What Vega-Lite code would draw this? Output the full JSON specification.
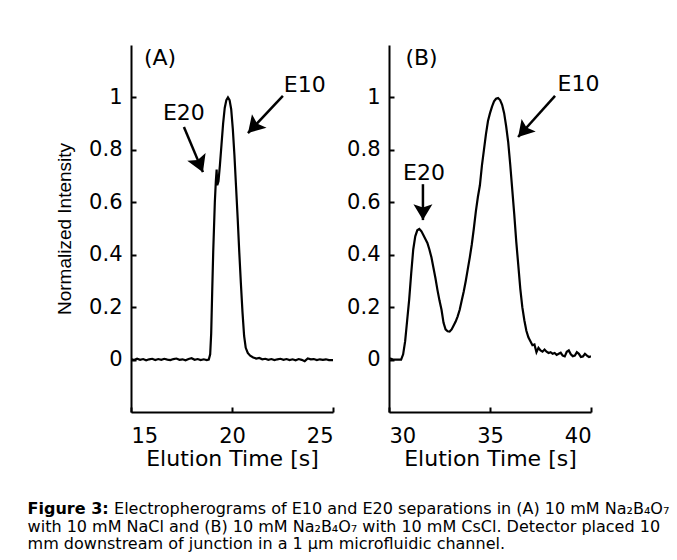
{
  "$schema": "https://vega.github.io/schema/vega-lite/v6.json",
  "background": "white",
  "padding": {"left": 27, "top": 45, "right": 0, "bottom": 0},
  "autosize": {"type": "pad"},
  "config": {
    "view": {"stroke": null},
    "axis": {
      "domainColor": "black", "domainWidth": 2, "tickColor": "black", "tickWidth": 2, "tickSize": -5,
      "labelFont": "DejaVu Sans", "labelFontSize": 21, "labelColor": "black",
      "titleColor": "black", "titleFontWeight": "normal", "grid": false
    },
    "axisX": {"labelPadding": 18, "titleFont": "DejaVu Sans", "titleFontSize": 22, "titlePadding": 2},
    "axisY": {"labelPadding": 14, "titleFont": "Liberation Sans", "titleFontSize": 19, "titlePadding": 14}
  },
  "title": {
    "text": "Figure 3:",
    "subtitle": [
      "\u200b\u00a0\u00a0\u00a0\u00a0\u00a0\u00a0\u00a0\u00a0\u00a0\u00a0\u00a0\u00a0\u00a0\u00a0\u00a0\u00a0\u00a0Electropherograms of E10 and E20 separations in (A) 10 mM Na₂B₄O₇",
      "with 10 mM NaCl and (B) 10 mM Na₂B₄O₇ with 10 mM CsCl. Detector placed 10",
      "mm downstream of junction in a 1 µm microfluidic channel."
    ],
    "orient": "bottom", "anchor": "start", "dx": -28, "offset": 32,
    "font": "DejaVu Sans", "fontSize": 16, "fontWeight": "bold", "color": "black",
    "subtitleFont": "DejaVu Sans", "subtitleFontSize": 16, "subtitleColor": "black",
    "subtitlePadding": -16, "subtitleLineHeight": 17.5
  },
  "datasets": {
    "curveA": [
      {"t":15.0,"v":0.002},{"t":15.15,"v":-0.002},{"t":15.3,"v":0.003},{"t":15.45,"v":-0.001},{"t":15.6,"v":0.002},
      {"t":15.75,"v":-0.003},{"t":15.9,"v":0.001},{"t":16.05,"v":0.003},{"t":16.2,"v":-0.002},{"t":16.35,"v":0.002},
      {"t":16.5,"v":-0.001},{"t":16.65,"v":0.003},{"t":16.8,"v":0.0},{"t":16.95,"v":-0.002},{"t":17.1,"v":0.002},
      {"t":17.25,"v":0.004},{"t":17.4,"v":-0.001},{"t":17.55,"v":0.001},{"t":17.7,"v":-0.003},{"t":17.85,"v":0.002},
      {"t":18.0,"v":0.005},{"t":18.15,"v":-0.001},{"t":18.3,"v":0.002},{"t":18.45,"v":-0.002},{"t":18.6,"v":0.001},
      {"t":18.75,"v":-0.002},{"t":18.85,"v":0.0},{"t":18.92,"v":0.02},{"t":18.97,"v":0.1},{"t":19.02,"v":0.26},
      {"t":19.07,"v":0.41},{"t":19.15,"v":0.6},{"t":19.2,"v":0.68},{"t":19.24,"v":0.725},{"t":19.27,"v":0.665},
      {"t":19.33,"v":0.68},{"t":19.4,"v":0.74},{"t":19.48,"v":0.82},{"t":19.56,"v":0.9},{"t":19.64,"v":0.96},
      {"t":19.72,"v":0.99},{"t":19.8,"v":1.0},{"t":19.88,"v":0.99},{"t":19.96,"v":0.955},{"t":20.04,"v":0.88},
      {"t":20.12,"v":0.78},{"t":20.2,"v":0.66},{"t":20.28,"v":0.54},{"t":20.36,"v":0.41},{"t":20.44,"v":0.29},
      {"t":20.52,"v":0.18},{"t":20.6,"v":0.09},{"t":20.68,"v":0.045},{"t":20.78,"v":0.025},{"t":20.9,"v":0.015},
      {"t":21.05,"v":0.008},{"t":21.2,"v":0.004},{"t":21.35,"v":0.006},{"t":21.5,"v":0.001},{"t":21.65,"v":0.003},
      {"t":21.8,"v":-0.001},{"t":21.95,"v":0.002},{"t":22.1,"v":-0.002},{"t":22.25,"v":0.001},{"t":22.4,"v":0.003},
      {"t":22.55,"v":-0.001},{"t":22.7,"v":0.002},{"t":22.85,"v":-0.002},{"t":23.0,"v":0.001},{"t":23.15,"v":-0.003},
      {"t":23.3,"v":0.002},{"t":23.45,"v":-0.001},{"t":23.6,"v":-0.006},{"t":23.75,"v":0.004},{"t":23.9,"v":0.001},
      {"t":24.05,"v":0.002},{"t":24.2,"v":-0.002},{"t":24.35,"v":0.001},{"t":24.5,"v":-0.001},{"t":24.65,"v":0.001},
      {"t":24.8,"v":-0.002},{"t":25.0,"v":-0.002}
    ],
    "curveB": [
      {"t":30.0,"v":0.005},{"t":30.1,"v":0.003},{"t":30.2,"v":0.0},{"t":30.4,"v":0.0},{"t":30.6,"v":0.0},
      {"t":30.7,"v":0.02},{"t":30.8,"v":0.07},{"t":30.9,"v":0.15},{"t":31.0,"v":0.23},{"t":31.1,"v":0.33},
      {"t":31.2,"v":0.42},{"t":31.3,"v":0.47},{"t":31.4,"v":0.493},{"t":31.5,"v":0.498},{"t":31.6,"v":0.49},
      {"t":31.7,"v":0.475},{"t":31.8,"v":0.46},{"t":31.9,"v":0.445},{"t":32.0,"v":0.42},{"t":32.1,"v":0.39},
      {"t":32.2,"v":0.35},{"t":32.3,"v":0.31},{"t":32.4,"v":0.265},{"t":32.5,"v":0.225},{"t":32.6,"v":0.19},
      {"t":32.7,"v":0.14},{"t":32.8,"v":0.115},{"t":32.9,"v":0.108},{"t":33.0,"v":0.107},{"t":33.1,"v":0.115},
      {"t":33.2,"v":0.13},{"t":33.3,"v":0.145},{"t":33.4,"v":0.165},{"t":33.5,"v":0.19},{"t":33.6,"v":0.225},
      {"t":33.7,"v":0.26},{"t":33.8,"v":0.3},{"t":33.9,"v":0.345},{"t":34.0,"v":0.39},{"t":34.1,"v":0.44},
      {"t":34.2,"v":0.5},{"t":34.3,"v":0.565},{"t":34.4,"v":0.62},{"t":34.5,"v":0.665},{"t":34.6,"v":0.74},
      {"t":34.7,"v":0.8},{"t":34.8,"v":0.86},{"t":34.9,"v":0.91},{"t":35.0,"v":0.94},{"t":35.1,"v":0.965},
      {"t":35.2,"v":0.985},{"t":35.3,"v":0.995},{"t":35.4,"v":0.998},{"t":35.5,"v":0.99},{"t":35.6,"v":0.972},
      {"t":35.7,"v":0.94},{"t":35.8,"v":0.89},{"t":35.9,"v":0.83},{"t":36.0,"v":0.745},{"t":36.1,"v":0.65},
      {"t":36.2,"v":0.555},{"t":36.3,"v":0.45},{"t":36.4,"v":0.36},{"t":36.5,"v":0.27},{"t":36.6,"v":0.2},
      {"t":36.7,"v":0.15},{"t":36.8,"v":0.11},{"t":36.9,"v":0.085},{"t":37.0,"v":0.07},{"t":37.1,"v":0.055},
      {"t":37.2,"v":0.058},{"t":37.3,"v":0.028},{"t":37.4,"v":0.045},{"t":37.5,"v":0.035},{"t":37.6,"v":0.03},
      {"t":37.7,"v":0.038},{"t":37.8,"v":0.03},{"t":37.9,"v":0.025},{"t":38.0,"v":0.028},{"t":38.1,"v":0.022},
      {"t":38.2,"v":0.025},{"t":38.3,"v":0.018},{"t":38.4,"v":0.022},{"t":38.5,"v":0.026},{"t":38.6,"v":0.015},
      {"t":38.7,"v":0.012},{"t":38.8,"v":0.03},{"t":38.9,"v":0.035},{"t":39.0,"v":0.02},{"t":39.1,"v":0.013},
      {"t":39.2,"v":0.015},{"t":39.3,"v":0.028},{"t":39.4,"v":0.022},{"t":39.5,"v":0.01},{"t":39.6,"v":0.012},
      {"t":39.7,"v":0.022},{"t":39.8,"v":0.015},{"t":39.9,"v":0.01},{"t":40.0,"v":0.012}
    ],
    "arrowsA": [
      {"name":"E20","t":17.62,"v":0.887,"t2":18.56,"v2":0.715},
      {"name":"E10","t":22.52,"v":1.006,"t2":20.79,"v2":0.864}
    ],
    "arrowsB": [
      {"name":"E20","t":31.68,"v":0.669,"t2":31.68,"v2":0.532},
      {"name":"E10","t":38.22,"v":1.006,"t2":36.39,"v2":0.849}
    ],
    "labelsA": [
      {"t":16.44,"v":1.15,"label":"(A)"},
      {"t":17.62,"v":0.941,"label":"E20"},
      {"t":23.6,"v":1.048,"label":"E10"}
    ],
    "labelsB": [
      {"t":31.61,"v":1.15,"label":"(B)"},
      {"t":31.73,"v":0.711,"label":"E20"},
      {"t":39.38,"v":1.052,"label":"E10"}
    ]
  },
  "bounds": "flush",
  "spacing": 56,
  "hconcat": [
    {
      "width": 202, "height": 367,
      "encoding": {
        "x": {"field": "t", "type": "quantitative",
              "scale": {"domain": [15, 25], "nice": false, "zero": false},
              "axis": {"values": [15, 20, 25], "title": "Elution Time [s]"}},
        "y": {"field": "v", "type": "quantitative",
              "scale": {"domain": [-0.2, 1.2], "nice": false, "zero": false},
              "axis": {"values": [0, 0.2, 0.4, 0.6, 0.8, 1], "format": "~g", "title": "Normalized Intensity"}}
      },
      "layer": [
        {"data": {"name": "curveA"}, "mark": {"type": "line", "color": "black", "strokeWidth": 2.2, "clip": true}},
        {"data": {"name": "arrowsA"}, "mark": {"type": "rule", "color": "black", "strokeWidth": 2.5},
         "encoding": {"x2": {"field": "t2"}, "y2": {"field": "v2"}}},
        {"data": {"name": "arrowsA"}, "transform": [{"filter": "datum.name == 'E20'"}],
         "mark": {"type": "point", "shape": "M0,0L0.6,1L0,0.8L-0.6,1Z", "filled": true, "color": "black", "opacity": 1, "size": 1100, "angle": 157},
         "encoding": {"x": {"field": "t2", "type": "quantitative"}, "y": {"field": "v2", "type": "quantitative"}}},
        {"data": {"name": "arrowsA"}, "transform": [{"filter": "datum.name == 'E10'"}],
         "mark": {"type": "point", "shape": "M0,0L0.6,1L0,0.8L-0.6,1Z", "filled": true, "color": "black", "opacity": 1, "size": 1100, "angle": 223},
         "encoding": {"x": {"field": "t2", "type": "quantitative"}, "y": {"field": "v2", "type": "quantitative"}}},
        {"data": {"name": "labelsA"}, "mark": {"type": "text", "font": "DejaVu Sans", "fontSize": 22, "color": "black", "align": "center", "baseline": "middle"},
         "encoding": {"text": {"field": "label"}}}
      ]
    },
    {
      "width": 202, "height": 367,
      "encoding": {
        "x": {"field": "t", "type": "quantitative",
              "scale": {"domain": [30, 40], "nice": false, "zero": false},
              "axis": {"values": [30, 35, 40], "title": "Elution Time [s]"}},
        "y": {"field": "v", "type": "quantitative",
              "scale": {"domain": [-0.2, 1.2], "nice": false, "zero": false},
              "axis": {"values": [0, 0.2, 0.4, 0.6, 0.8, 1], "format": "~g", "title": null}}
      },
      "layer": [
        {"data": {"name": "curveB"}, "mark": {"type": "line", "color": "black", "strokeWidth": 2.2, "clip": true}},
        {"data": {"name": "arrowsB"}, "mark": {"type": "rule", "color": "black", "strokeWidth": 2.5},
         "encoding": {"x2": {"field": "t2"}, "y2": {"field": "v2"}}},
        {"data": {"name": "arrowsB"}, "transform": [{"filter": "datum.name == 'E20'"}],
         "mark": {"type": "point", "shape": "M0,0L0.6,1L0,0.8L-0.6,1Z", "filled": true, "color": "black", "opacity": 1, "size": 1000, "angle": 180},
         "encoding": {"x": {"field": "t2", "type": "quantitative"}, "y": {"field": "v2", "type": "quantitative"}}},
        {"data": {"name": "arrowsB"}, "transform": [{"filter": "datum.name == 'E10'"}],
         "mark": {"type": "point", "shape": "M0,0L0.6,1L0,0.8L-0.6,1Z", "filled": true, "color": "black", "opacity": 1, "size": 1000, "angle": 222},
         "encoding": {"x": {"field": "t2", "type": "quantitative"}, "y": {"field": "v2", "type": "quantitative"}}},
        {"data": {"name": "labelsB"}, "mark": {"type": "text", "font": "DejaVu Sans", "fontSize": 22, "color": "black", "align": "center", "baseline": "middle"},
         "encoding": {"text": {"field": "label"}}}
      ]
    }
  ]
}
